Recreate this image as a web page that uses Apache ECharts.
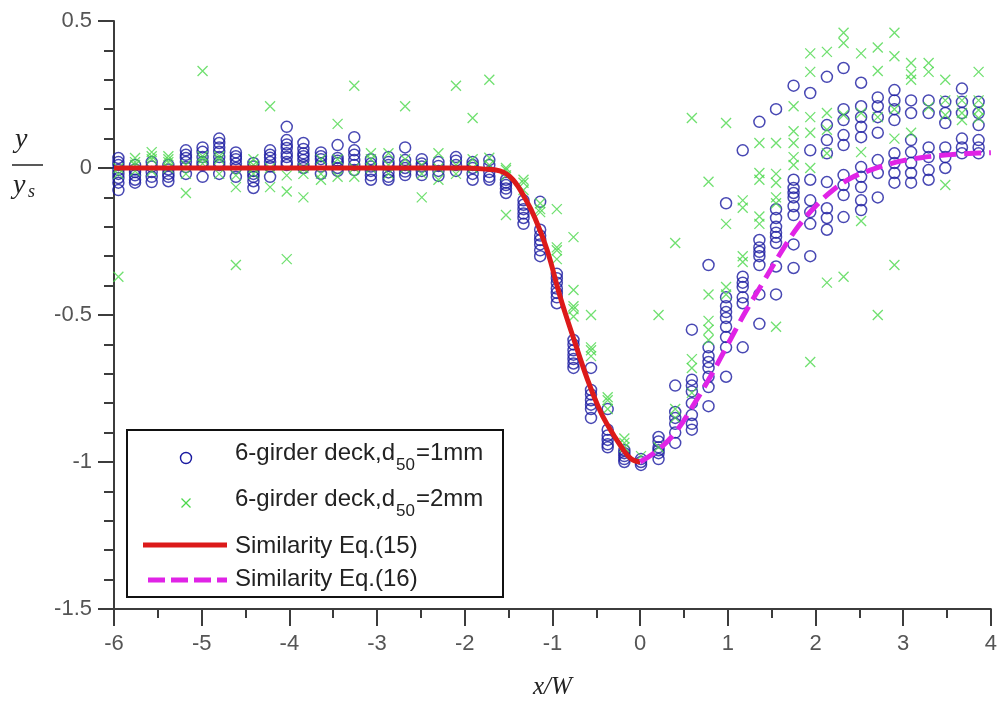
<!DOCTYPE html>
<html>
<head>
<meta charset="utf-8">
<script src="https://cdn.jsdelivr.net/npm/echarts@6/dist/echarts.min.js"></script>
<style>
  html, body { margin: 0; padding: 0; background: #fff; }
  #chart { width: 1000px; height: 711px; }
</style>
</head>
<body>
<div id="chart"></div>
<script>
// x/W positions of the measuring columns
const colX = [-5.95, -5.76, -5.57, -5.38, -5.18, -4.99, -4.80, -4.61, -4.41, -4.22,
  -4.03, -3.84, -3.64, -3.45, -3.26, -3.07, -2.87, -2.68, -2.49, -2.30,
  -2.10, -1.91, -1.72, -1.53, -1.33, -1.14, -0.95, -0.76, -0.56, -0.37,
  -0.18, 0.01, 0.21, 0.40, 0.59, 0.78, 0.98, 1.17, 1.36, 1.55,
  1.75, 1.94, 2.13, 2.32, 2.52, 2.71, 2.90, 3.09, 3.29, 3.48,
  3.67, 3.86];

// y/ys, 6-girder deck, d50 = 1mm (one list per column)
const blueY = [
  [0.034, 0.02, 0.01, -0.007, -0.02, -0.034, -0.05, -0.075],
  [0.01, -0.005, -0.014, -0.025, -0.04, -0.05],
  [0.02, 0.005, -0.014, -0.03, -0.048],
  [0.01, -0.005, -0.02, -0.03, -0.045],
  [0.06, 0.045, 0.034, 0.02, 0.003, -0.02],
  [0.07, 0.055, 0.037, 0.02, 0.01, -0.03],
  [0.1, 0.085, 0.07, 0.055, 0.037, 0.02, 0.01, -0.02],
  [0.053, 0.04, 0.03, 0.015, 0.0, -0.03],
  [0.017, 0.005, -0.01, -0.02, -0.03, -0.045, -0.068],
  [0.06, 0.045, 0.035, 0.02, 0.005, -0.03],
  [0.14, 0.095, 0.08, 0.068, 0.05, 0.037, 0.02, 0.01],
  [0.085, 0.065, 0.05, 0.04, 0.027, 0.01, 0.0],
  [0.053, 0.04, 0.03, 0.015, 0.005, -0.02],
  [0.078, 0.034, 0.025, 0.017, 0.0, -0.01],
  [0.105, 0.06, 0.045, 0.027, 0.01, -0.007],
  [0.03, 0.015, 0.005, -0.01, -0.025, -0.04],
  [0.037, 0.02, 0.01, -0.015, -0.03, -0.04],
  [0.07, 0.027, 0.01, 0.0, -0.012, -0.024],
  [0.03, 0.015, 0.005, -0.01, -0.024],
  [0.02, 0.007, -0.01, -0.027],
  [0.037, 0.025, 0.01, -0.01],
  [0.02, 0.01, 0.0, -0.02, -0.04],
  [0.027, 0.01, -0.014, -0.03, -0.04],
  [-0.04, -0.05, -0.058, -0.07, -0.085],
  [-0.11, -0.125, -0.14, -0.155, -0.17, -0.19],
  [-0.115, -0.21, -0.23, -0.245, -0.26, -0.28, -0.3],
  [-0.36, -0.375, -0.39, -0.41, -0.425, -0.44, -0.46],
  [-0.585, -0.6, -0.62, -0.635, -0.65, -0.665, -0.68],
  [-0.68, -0.755, -0.77, -0.79, -0.805, -0.82, -0.85],
  [-0.82, -0.89, -0.91, -0.925, -0.94, -0.95],
  [-0.96, -0.97, -0.98, -0.99, -1.0],
  [-0.99, -1.0, -1.01],
  [-0.915, -0.93, -0.95, -0.96, -0.97, -0.99],
  [-0.74, -0.83, -0.85, -0.87, -0.9, -0.935],
  [-0.55, -0.72, -0.74, -0.76, -0.8, -0.84, -0.87, -0.89],
  [-0.33, -0.61, -0.64, -0.66, -0.68, -0.71, -0.745, -0.81],
  [-0.12, -0.44, -0.47, -0.49, -0.51, -0.54, -0.575, -0.61, -0.71],
  [0.06, -0.37, -0.39, -0.405, -0.44, -0.46, -0.61],
  [0.157, -0.245, -0.27, -0.285, -0.3, -0.33, -0.43, -0.53],
  [0.2, -0.14, -0.17, -0.2, -0.22, -0.235, -0.255, -0.335, -0.43],
  [0.28, -0.04, -0.068, -0.085, -0.1, -0.13, -0.16, -0.26, -0.34],
  [0.255, 0.06, -0.04, -0.11, -0.15, -0.19, -0.3],
  [0.31, 0.146, 0.095, 0.05, -0.048, -0.137, -0.17, -0.21],
  [0.34, 0.2, 0.163, 0.112, 0.078, -0.024, -0.058, -0.092, -0.167],
  [0.29, 0.21, 0.173, 0.14, 0.105, 0.003, -0.03, -0.065, -0.11, -0.143],
  [0.24, 0.21, 0.173, 0.12, 0.027, -0.017, -0.1],
  [0.265, 0.23, 0.2, 0.163, 0.05, 0.017, -0.017, -0.05],
  [0.23, 0.187, 0.095, 0.054, 0.017, -0.017, -0.05],
  [0.23, 0.187, 0.07, 0.037, -0.007, -0.04],
  [0.225, 0.187, 0.153, 0.07, 0.037, 0.0],
  [0.27, 0.225, 0.187, 0.1, 0.07, 0.05],
  [0.225, 0.187, 0.146, 0.095, 0.07, 0.05]
];

// y/ys, 6-girder deck, d50 = 2mm
const greenY = [
  [0.0, -0.02, -0.37], [0.034, 0.02, 0.01, -0.01], [0.054, 0.04, 0.03, -0.01], [0.04, 0.03, 0.02, 0.0],
  [0.01, -0.02, -0.085], [0.33, 0.04, 0.03, 0.015], [0.04, 0.03, -0.02], [-0.025, -0.065, -0.33],
  [0.03, 0.01, 0.0, -0.02], [0.21, 0.0, -0.065], [-0.025, -0.08, -0.31], [0.0, -0.02, -0.1],
  [0.03, -0.02, -0.04], [0.15, 0.03, -0.03], [0.28, 0.0, -0.03], [0.05, 0.03, 0.0],
  [0.05, 0.01, -0.02], [0.21, 0.03, 0.0], [0.01, -0.02, -0.1], [0.05, 0.0, -0.04],
  [0.28, 0.01, -0.02], [0.17, 0.03, 0.0], [0.3, 0.035, 0.01], [0.0, -0.007, -0.025, -0.16],
  [-0.04, -0.05, -0.075], [-0.12, -0.14, -0.15], [-0.14, -0.27, -0.28, -0.31],
  [-0.235, -0.415, -0.47, -0.48, -0.505], [-0.5, -0.61, -0.62, -0.64], [-0.78, -0.79, -0.82],
  [-0.92, -0.935, -0.95], [-0.98],
  [-0.5, -0.95], [-0.255, -0.82, -0.85], [0.17, -0.65, -0.68, -0.765],
  [-0.047, -0.43, -0.52, -0.55, -0.585], [0.153, -0.19, -0.405, -0.43],
  [-0.11, -0.135, -0.3, -0.32], [0.085, -0.017, -0.04, -0.165, -0.19],
  [0.085, -0.02, -0.05, -0.1, -0.12, -0.54], [0.21, 0.125, 0.085, 0.037, 0.01],
  [0.39, 0.327, 0.173, 0.12, 0.0, -0.66], [0.395, 0.187, 0.13, 0.05, -0.39],
  [0.46, 0.425, 0.18, -0.37], [0.39, 0.187, 0.054, -0.18], [0.41, 0.33, 0.173, -0.5],
  [0.46, 0.38, 0.2, 0.1, -0.33], [0.357, 0.32, 0.3, 0.12], [0.357, 0.327, 0.207],
  [0.3, 0.23, 0.18, -0.058], [0.23, 0.187, 0.163], [0.327, 0.23, 0.197, 0.17]
];

// similarity curves
const eq15X = [-6, -4, -2, -1.8, -1.6, -1.45, -1.3, -1.2, -1.06, -0.91, -0.77, -0.6, -0.48, -0.38, -0.2, -0.1, 0];
const eq15Y = [0, 0, 0, -0.003, -0.01, -0.04, -0.11, -0.17, -0.28, -0.44, -0.57, -0.72, -0.81, -0.87, -0.955, -0.99, -1];
const eq16X = [0, 0.2, 0.4, 0.6, 0.8, 1.0, 1.2, 1.4, 1.6, 1.8, 2.0, 2.2, 2.4, 2.6, 2.8, 3.0, 3.2, 3.4, 3.6, 3.8, 4.0];
const eq16Y = [-1, -0.96, -0.9, -0.81, -0.71, -0.6, -0.49, -0.39, -0.29, -0.2, -0.13, -0.075, -0.035, -0.01, 0.01, 0.025, 0.035, 0.042, 0.047, 0.05, 0.052];

const names = ['6-girder deck,d50=1mm', '6-girder deck,d50=2mm', 'Similarity Eq.(15)', 'Similarity Eq.(16)'];

const blueData = colX.flatMap((x, i) => blueY[i].map(y => [x, y]));
const greenData = colX.flatMap((x, i) => greenY[i].map(y => [x, y]));
const eq15 = eq15X.map((x, i) => [x, eq15Y[i]]);
const eq16 = eq16X.map((x, i) => [x, eq16Y[i]]);

const BLUE = '#1a1aa0';
const GREEN = '#4cd84c';
const RED = '#dc1a1a';
const MAGENTA = '#e023e6';
const AXIS = '#3c3c3c';
const TXT = '#222';
const LEG_FONT = '24px "Liberation Sans"';
const SUB_FONT = '17px "Liberation Sans"';

// measure text so the subscript sits right after "d"
const ctx = document.createElement('canvas').getContext('2d');
function textW(t, font) { ctx.font = font; return ctx.measureText(t).width; }

// legend drawn as a boxed key, like the original figure
function legendGraphic() {
  const els = [
    { type: 'rect', shape: { x: 127, y: 430, width: 376, height: 167 },
      style: { fill: '#fff', stroke: '#111', lineWidth: 2 }, z: 100 },
    { type: 'circle', shape: { cx: 186, cy: 458, r: 5.5 },
      style: { fill: 'none', stroke: BLUE, lineWidth: 1.4 }, z: 101 },
    { type: 'line', shape: { x1: 181.5, y1: 498.5, x2: 190.5, y2: 507.5 },
      style: { stroke: GREEN, lineWidth: 1.2 }, z: 101 },
    { type: 'line', shape: { x1: 190.5, y1: 498.5, x2: 181.5, y2: 507.5 },
      style: { stroke: GREEN, lineWidth: 1.2 }, z: 101 },
    { type: 'line', shape: { x1: 143, y1: 545, x2: 227, y2: 545 },
      style: { stroke: RED, lineWidth: 5 }, z: 101 },
    { type: 'line', shape: { x1: 148, y1: 580, x2: 227, y2: 580 },
      style: { stroke: MAGENTA, lineWidth: 5, lineDash: [17, 6] }, z: 101 }
  ];
  const rows = [
    { name: names[0], y: 453 },
    { name: names[1], y: 499 },
    { name: names[2], y: 546 },
    { name: names[3], y: 579 }
  ];
  rows.forEach(r => {
    const parts = r.name.split('d50');
    if (parts.length === 2) {
      const head = parts[0] + 'd';
      const x1 = 235 + textW(head, LEG_FONT) + 1;
      const x2 = x1 + textW('50', SUB_FONT) + 1;
      els.push({ type: 'text', x: 235, y: r.y, z: 101,
        style: { text: head, font: LEG_FONT, fill: TXT, verticalAlign: 'middle' } });
      els.push({ type: 'text', x: x1, y: r.y + 12, z: 101,
        style: { text: '50', font: SUB_FONT, fill: TXT, verticalAlign: 'middle' } });
      els.push({ type: 'text', x: x2, y: r.y, z: 101,
        style: { text: parts[1], font: LEG_FONT, fill: TXT, verticalAlign: 'middle' } });
    } else {
      els.push({ type: 'text', x: 235, y: r.y, z: 101,
        style: { text: r.name, font: LEG_FONT, fill: TXT, verticalAlign: 'middle' } });
    }
  });
  return els;
}

const chart = echarts.init(document.getElementById('chart'));
chart.setOption({
  animation: false,
  backgroundColor: '#fff',
  grid: { left: 114, right: 9, top: 21, bottom: 102 },
  xAxis: {
    type: 'value', min: -6, max: 4, interval: 1,
    name: 'x/W', nameLocation: 'middle', nameGap: 66,
    nameTextStyle: { fontFamily: 'Liberation Serif', fontStyle: 'italic', fontSize: 25, color: TXT },
    axisLine: { onZero: false, lineStyle: { color: AXIS, width: 2 } },
    axisTick: { length: 17, lineStyle: { color: AXIS, width: 2 } },
    minorTick: { show: true, splitNumber: 2, length: 9, lineStyle: { color: AXIS, width: 2 } },
    axisLabel: { margin: 24, fontFamily: 'Liberation Sans', fontSize: 22, color: '#555' },
    splitLine: { show: false }
  },
  yAxis: {
    type: 'value', min: -1.5, max: 0.5, interval: 0.5,
    axisLine: { onZero: false, lineStyle: { color: AXIS, width: 2 } },
    axisTick: { length: 16, lineStyle: { color: AXIS, width: 2 } },
    minorTick: { show: true, splitNumber: 5, length: 10, lineStyle: { color: AXIS, width: 2 } },
    axisLabel: { margin: 22, fontFamily: 'Liberation Sans', fontSize: 22, color: '#555' },
    splitLine: { show: false }
  },
  graphic: [
    { type: 'text', left: 15, top: 126, style: { text: 'y', font: 'italic 28px "Liberation Serif"', fill: TXT } },
    { type: 'line', shape: { x1: 12, y1: 165, x2: 43, y2: 165 }, style: { stroke: TXT, lineWidth: 1.5 } },
    { type: 'text', left: 13, top: 172, style: { text: 'y', font: 'italic 28px "Liberation Serif"', fill: TXT } },
    { type: 'text', left: 28, top: 183, style: { text: 's', font: 'italic 18px "Liberation Serif"', fill: TXT } }
  ].concat(legendGraphic()),
  series: [
    {
      name: names[0], type: 'scatter', data: blueData,
      symbol: 'circle', symbolSize: 11,
      itemStyle: { color: 'none', borderColor: BLUE, borderWidth: 1.5 },
      emphasis: { disabled: true }
    },
    {
      name: names[1], type: 'scatter', data: greenData,
      symbol: 'path://M0,0L10,10M10,0L0,10', symbolSize: 10,
      itemStyle: { color: 'none', borderColor: GREEN, borderWidth: 1.3 },
      emphasis: { disabled: true }
    },
    {
      name: names[2], type: 'line', data: eq15, smooth: 0.4,
      symbol: 'none', color: RED,
      lineStyle: { color: RED, width: 5 }
    },
    {
      name: names[3], type: 'line', data: eq16, smooth: 0.4,
      symbol: 'none', color: MAGENTA,
      lineStyle: { color: MAGENTA, width: 5, type: [17, 8] }
    }
  ]
});
</script>
</body>
</html>
